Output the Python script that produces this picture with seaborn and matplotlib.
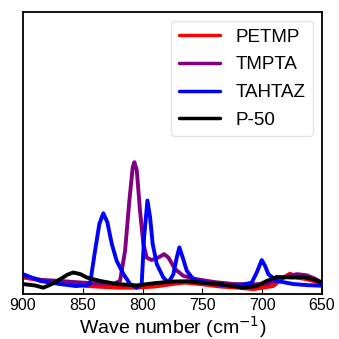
import matplotlib
matplotlib.use("Agg")
import matplotlib.pyplot as plt
import seaborn as sns
import pandas as pd

# ---- data (y in arbitrary units) ----
petmp_x = [900, 885, 874.7, 860.7, 846.7, 830, 819, 805, 790, 775, 765, 752, 735, 720, 707.4, 690.7, 682.4, 676.8, 671.2, 662.8, 656, 650]
petmp_y = [0.058, 0.048, 0.040, 0.040, 0.028, 0.024, 0.022, 0.022, 0.026, 0.035, 0.040, 0.035, 0.026, 0.022, 0.017, 0.028, 0.058, 0.072, 0.058, 0.052, 0.044, 0.035]

tmpta_x = [900, 885, 870, 850, 835, 824.5, 818.9, 814.7, 811.1, 808.3, 806.9, 804.9, 802.2, 799.4, 796.6, 792.4, 786.9, 782.1, 778.5, 772.9, 766, 754.8, 740, 724, 710, 696, 685, 678, 671, 662.8, 656, 650]
tmpta_y = [0.064, 0.050, 0.046, 0.040, 0.037, 0.035, 0.046, 0.153, 0.331, 0.449, 0.467, 0.438, 0.295, 0.177, 0.129, 0.120, 0.129, 0.141, 0.129, 0.088, 0.064, 0.052, 0.042, 0.035, 0.034, 0.035, 0.052, 0.064, 0.070, 0.066, 0.054, 0.040]

tahtaz_x = [900, 885.8, 869, 856, 848, 844, 839.8, 836.2, 832.9, 829.5, 825.8, 821.7, 816, 810.5, 805, 800.8, 798.8, 796, 793.8, 791.6, 788.2, 782.7, 778.5, 774.3, 771.5, 769.3, 766.5, 763.1, 757.6, 752, 735, 720, 708.8, 704.6, 700.4, 697.7, 694.9, 687.9, 674, 662, 650]
tahtaz_y = [0.070, 0.046, 0.035, 0.028, 0.030, 0.035, 0.153, 0.248, 0.286, 0.254, 0.177, 0.117, 0.070, 0.035, 0.022, 0.035, 0.200, 0.331, 0.272, 0.177, 0.106, 0.058, 0.040, 0.070, 0.129, 0.165, 0.129, 0.082, 0.052, 0.044, 0.032, 0.029, 0.040, 0.076, 0.120, 0.100, 0.070, 0.046, 0.035, 0.031, 0.029]

p50_x = [900, 890, 883, 876, 869, 863, 858, 852, 846.7, 835.6, 821.7, 805, 790, 775, 762, 752, 735.3, 715.8, 704.6, 696.2, 687.9, 680, 674, 665.6, 657.3, 650]
p50_y = [0.035, 0.030, 0.022, 0.035, 0.052, 0.068, 0.076, 0.070, 0.058, 0.046, 0.035, 0.030, 0.038, 0.044, 0.045, 0.040, 0.035, 0.022, 0.028, 0.046, 0.060, 0.059, 0.058, 0.060, 0.052, 0.040]

series_names = ["PETMP", "TMPTA", "TAHTAZ", "P-50"]
series_colors = ["#ff0000", "#800080", "#0000ff", "#000000"]

frames = []
for name, xs, ys in zip(series_names,
                        [petmp_x, tmpta_x, tahtaz_x, p50_x],
                        [petmp_y, tmpta_y, tahtaz_y, p50_y]):
    frames.append(pd.DataFrame({"wave": xs, "val": ys, "series": name}))
df = pd.concat(frames, ignore_index=True)

sns.set_style("white")
plt.rcParams["font.family"] = ["Liberation Sans", "DejaVu Sans"]

fig = plt.figure(figsize=(3.39, 3.39), dpi=100)
ax = fig.add_axes([0.068, 0.133, 0.882, 0.832])

sns.lineplot(data=df, x="wave", y="val", hue="series", hue_order=series_names,
             palette=series_colors, linewidth=2.8, ax=ax, estimator=None, sort=True)
for ln in ax.get_lines():
    ln.set_solid_joinstyle("round")
    ln.set_solid_capstyle("round")

ax.set_xlim(900, 650)
ax.set_ylim(0, 1)
ax.set_xticks([900, 850, 800, 750, 700, 650])
ax.set_yticks([])
ax.set_ylabel("")
ax.set_xlabel("Wave number (cm$^{-1}$)", fontsize=14, labelpad=1, color="black")
ax.tick_params(axis="x", labelsize=11.5, direction="in", length=4, width=0.8,
               pad=3, colors="black", bottom=True)
for s in ax.spines.values():
    s.set_color("black")
    s.set_linewidth(1.3)

leg = ax.legend(loc="upper right", fontsize=13.5, frameon=True, handlelength=2.2,
                handletextpad=0.8, borderaxespad=0.5, labelspacing=0.56,
                borderpad=0.4)
for line in leg.get_lines():
    line.set_linewidth(2.5)
for t in leg.get_texts():
    t.set_color("black")
leg.get_frame().set_edgecolor("#dddddd")

fig.savefig("out.png", dpi=100)
